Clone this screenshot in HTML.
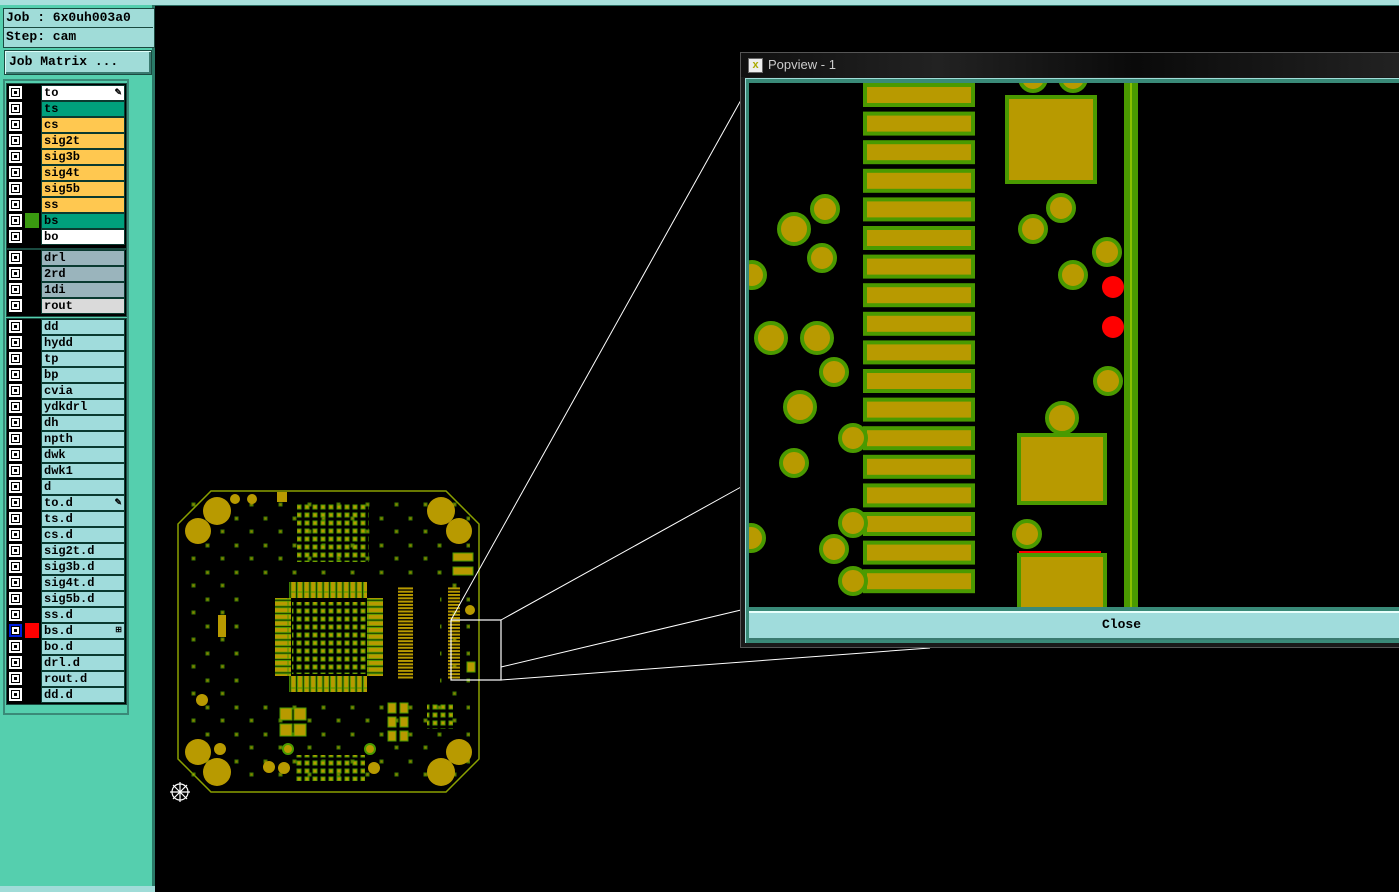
<!DOCTYPE html>
<html><head><meta charset="utf-8"><style>
body{margin:0;width:1399px;height:892px;background:#000;position:relative;overflow:hidden;font-family:"Liberation Mono",monospace;}
.a{position:absolute;}
.lbl{position:absolute;left:41px;width:80px;height:14px;font:bold 12px/14px "Liberation Mono",monospace;padding-left:2px;color:#000;border:1px solid #0a3a30;}
.cb{position:absolute;left:9px;width:9px;height:9px;background:#000;border:2px solid #fff;}
.cb:after{content:"";position:absolute;left:1px;top:1px;width:3px;height:3px;border:2px solid #fff;}
</style></head><body>
<div class="a" style="left:0;top:0;width:1399px;height:5px;background:#a8e0dc;border-bottom:1px solid #2a6a60"></div>
<div class="a" style="left:0;top:5px;width:155px;height:887px;background:#55cfae"></div>
<div class="a" style="left:152px;top:5px;width:3px;height:887px;background:#2a7a68"></div>
<div class="a" style="left:3px;top:8px;width:150px;height:38px;background:#a0dcd8;border:1px solid #1a4a40"></div>
<div class="a" style="left:3px;top:27px;width:150px;height:1px;background:#1a4a40"></div>
<div class="a" style="left:6px;top:9px;font:bold 13px/18px 'Liberation Mono',monospace">Job : 6x0uh003a0</div>
<div class="a" style="left:6px;top:28px;font:bold 13px/18px 'Liberation Mono',monospace">Step: cam</div>
<div class="a" style="left:4px;top:50px;width:146px;height:23px;background:#a0dcd8;border:1px solid #1a4a40;box-shadow:inset 1px 1px #e0fffa,inset -2px -2px #3a7a70"></div>
<div class="a" style="left:9px;top:53px;font:bold 13px/18px 'Liberation Mono',monospace">Job Matrix ...</div>
<div class="a" style="left:3px;top:79px;width:126px;height:636px;background:#3a8a78"></div>
<div class="a" style="left:5px;top:81px;width:122px;height:632px;background:#55cfae"></div>
<div class="a" style="left:6px;top:83px;width:119px;height:164px;background:#000;border:1px solid #1a4a40"></div>
<div class="a" style="left:6px;top:249px;width:119px;height:66px;background:#000;border:1px solid #1a4a40"></div>
<div class="a" style="left:6px;top:318px;width:119px;height:385px;background:#000;border:1px solid #1a4a40"></div>
<!-- group1 -->
<div class="cb" style="top:86px"></div><div class="lbl" style="top:85px;background:#fff">to<span style="position:absolute;right:2px;font-size:9px">&#9998;</span></div>
<div class="cb" style="top:102px"></div><div class="lbl" style="top:101px;background:#00a07c">ts</div>
<div class="cb" style="top:118px"></div><div class="lbl" style="top:117px;background:#ffc850">cs</div>
<div class="cb" style="top:134px"></div><div class="lbl" style="top:133px;background:#ffc850">sig2t</div>
<div class="cb" style="top:150px"></div><div class="lbl" style="top:149px;background:#ffc850">sig3b</div>
<div class="cb" style="top:166px"></div><div class="lbl" style="top:165px;background:#ffc850">sig4t</div>
<div class="cb" style="top:182px"></div><div class="lbl" style="top:181px;background:#ffc850">sig5b</div>
<div class="cb" style="top:198px"></div><div class="lbl" style="top:197px;background:#ffc850">ss</div>
<div class="cb" style="top:214px"></div><div class="a" style="left:25px;top:213px;width:14px;height:15px;background:#3a9a10"></div><div class="lbl" style="top:213px;background:#00a07c">bs</div>
<div class="cb" style="top:230px"></div><div class="lbl" style="top:229px;background:#fff">bo</div>
<!-- group2 -->
<div class="cb" style="top:251px"></div><div class="lbl" style="top:250px;background:#9ab4bc">drl</div>
<div class="cb" style="top:267px"></div><div class="lbl" style="top:266px;background:#9ab4bc">2rd</div>
<div class="cb" style="top:283px"></div><div class="lbl" style="top:282px;background:#9ab4bc">1di</div>
<div class="cb" style="top:299px"></div><div class="lbl" style="top:298px;background:#dadada">rout</div>
<!-- group3 -->
<div class="cb" style="top:320px"></div><div class="lbl" style="top:319px;background:#a0dcdc">dd</div>
<div class="cb" style="top:336px"></div><div class="lbl" style="top:335px;background:#a0dcdc">hydd</div>
<div class="cb" style="top:352px"></div><div class="lbl" style="top:351px;background:#a0dcdc">tp</div>
<div class="cb" style="top:368px"></div><div class="lbl" style="top:367px;background:#a0dcdc">bp</div>
<div class="cb" style="top:384px"></div><div class="lbl" style="top:383px;background:#a0dcdc">cvia</div>
<div class="cb" style="top:400px"></div><div class="lbl" style="top:399px;background:#a0dcdc">ydkdrl</div>
<div class="cb" style="top:416px"></div><div class="lbl" style="top:415px;background:#a0dcdc">dh</div>
<div class="cb" style="top:432px"></div><div class="lbl" style="top:431px;background:#a0dcdc">npth</div>
<div class="cb" style="top:448px"></div><div class="lbl" style="top:447px;background:#a0dcdc">dwk</div>
<div class="cb" style="top:464px"></div><div class="lbl" style="top:463px;background:#a0dcdc">dwk1</div>
<div class="cb" style="top:480px"></div><div class="lbl" style="top:479px;background:#a0dcdc">d</div>
<div class="cb" style="top:496px"></div><div class="lbl" style="top:495px;background:#a0dcdc">to.d<span style="position:absolute;right:2px;font-size:9px">&#9998;</span></div>
<div class="cb" style="top:512px"></div><div class="lbl" style="top:511px;background:#a0dcdc">ts.d</div>
<div class="cb" style="top:528px"></div><div class="lbl" style="top:527px;background:#a0dcdc">cs.d</div>
<div class="cb" style="top:544px"></div><div class="lbl" style="top:543px;background:#a0dcdc">sig2t.d</div>
<div class="cb" style="top:560px"></div><div class="lbl" style="top:559px;background:#a0dcdc">sig3b.d</div>
<div class="cb" style="top:576px"></div><div class="lbl" style="top:575px;background:#a0dcdc">sig4t.d</div>
<div class="cb" style="top:592px"></div><div class="lbl" style="top:591px;background:#a0dcdc">sig5b.d</div>
<div class="cb" style="top:608px"></div><div class="lbl" style="top:607px;background:#a0dcdc">ss.d</div>
<div class="cb" style="top:624px;border-color:#0020e0"></div><div class="a" style="left:25px;top:623px;width:14px;height:15px;background:#f00"></div><div class="lbl" style="top:623px;background:#a0dcdc">bs.d<span style="position:absolute;right:2px;font-size:8px">&#8862;</span></div>
<div class="cb" style="top:640px"></div><div class="lbl" style="top:639px;background:#a0dcdc">bo.d</div>
<div class="cb" style="top:656px"></div><div class="lbl" style="top:655px;background:#a0dcdc">drl.d</div>
<div class="cb" style="top:672px"></div><div class="lbl" style="top:671px;background:#a0dcdc">rout.d</div>
<div class="cb" style="top:688px"></div><div class="lbl" style="top:687px;background:#a0dcdc">dd.d</div>
<div class="a" style="left:0;top:886px;width:155px;height:6px;background:#a0dcd8"></div>

<svg class="a" style="left:0;top:0" width="1399" height="892">
<defs>
<pattern id="bga" width="8" height="8" patternUnits="userSpaceOnUse"><rect x="1" y="1" width="4" height="4" fill="#b89a00" stroke="#4a9a00" stroke-width="1"/></pattern>
<pattern id="hp" width="16" height="6.6" patternUnits="userSpaceOnUse"><rect x="0" y="0.5" width="16" height="5" fill="#b89a00" stroke="#4a9a00"/></pattern>
<pattern id="vp" width="6.6" height="16" patternUnits="userSpaceOnUse"><rect x="0.5" y="0" width="5" height="16" fill="#b89a00" stroke="#4a9a00"/></pattern>
<pattern id="cn" width="14" height="3.3" patternUnits="userSpaceOnUse"><rect x="0" y="0" width="14" height="2" fill="#b89a00"/></pattern>
<pattern id="sp" width="29" height="27" patternUnits="userSpaceOnUse"><rect x="3" y="4" width="3" height="3" fill="#b89a00" stroke="#4a9a00"/><rect x="18" y="17" width="3" height="3" fill="#b89a00" stroke="#4a9a00"/></pattern>
</defs>
<polygon points="211,491 446,491 479,524 479,759 446,792 211,792 178,759 178,524" fill="#000" stroke="#8aa000" stroke-width="1.5"/>
<rect x="190" y="500" width="280" height="285" fill="url(#sp)" opacity=".8"/>
<rect x="240" y="580" width="200" height="120" fill="#000"/>
<g fill="#b89a00">
<circle cx="217" cy="511" r="14"/><circle cx="198" cy="531" r="13"/><circle cx="441" cy="511" r="14"/><circle cx="459" cy="531" r="13"/>
<circle cx="198" cy="752" r="13"/><circle cx="217" cy="772" r="14"/><circle cx="441" cy="772" r="14"/><circle cx="459" cy="752" r="13"/>
<circle cx="235" cy="499" r="5"/><circle cx="252" cy="499" r="5"/><circle cx="202" cy="700" r="6"/><circle cx="220" cy="749" r="6"/>
<circle cx="269" cy="767" r="6"/><circle cx="284" cy="768" r="6"/><circle cx="374" cy="768" r="6"/><circle cx="470" cy="610" r="5"/>
<rect x="277" y="492" width="10" height="10"/>
<rect x="218" y="615" width="8" height="22"/>
</g>
<circle cx="288" cy="749" r="5" fill="#b89a00" stroke="#4a9a00" stroke-width="2"/><circle cx="370" cy="749" r="5" fill="#b89a00" stroke="#4a9a00" stroke-width="2"/>
<rect x="297" y="502" width="72" height="60" fill="url(#bga)"/>
<rect x="292" y="602" width="74" height="72" fill="url(#bga)"/>
<rect x="275" y="598" width="16" height="78" fill="url(#hp)"/>
<rect x="367" y="598" width="16" height="78" fill="url(#hp)"/>
<rect x="289" y="582" width="78" height="16" fill="url(#vp)"/>
<rect x="289" y="676" width="78" height="16" fill="url(#vp)"/>
<rect x="398" y="587" width="15" height="92" fill="url(#cn)"/>
<rect x="448" y="587" width="12" height="92" fill="url(#cn)"/>
<g fill="#b89a00" stroke="#4a9a00">
<rect x="280" y="708" width="12" height="12"/><rect x="294" y="708" width="12" height="12"/><rect x="280" y="724" width="12" height="12"/><rect x="294" y="724" width="12" height="12"/>
<rect x="388" y="703" width="8" height="10"/><rect x="400" y="703" width="8" height="10"/><rect x="388" y="717" width="8" height="10"/><rect x="400" y="717" width="8" height="10"/><rect x="388" y="731" width="8" height="10"/><rect x="400" y="731" width="8" height="10"/>
<rect x="453" y="553" width="20" height="8"/><rect x="453" y="567" width="20" height="8"/><rect x="467" y="662" width="8" height="10"/>
<rect x="295" y="755" width="70" height="26" fill="url(#bga)" stroke="none"/>
<rect x="427" y="703" width="26" height="26" fill="url(#bga)" stroke="none"/>
</g>
<rect x="451" y="620" width="50" height="60" fill="none" stroke="#fff" stroke-width="1.2"/>
<g stroke="#fff" stroke-width="1">
<line x1="451" y1="620" x2="741" y2="100"/>
<line x1="501" y1="620" x2="741" y2="487"/>
<line x1="501" y1="667" x2="741" y2="610"/>
<line x1="501" y1="680" x2="930" y2="648"/>
</g>
<g stroke="#fff" stroke-width="1.2" fill="none"><circle cx="180" cy="792" r="8"/><line x1="170" y1="792" x2="190" y2="792"/><line x1="180" y1="782" x2="180" y2="802"/><line x1="173" y1="785" x2="187" y2="799"/><line x1="187" y1="785" x2="173" y2="799"/></g>
</svg>

<div class="a" style="left:740px;top:52px;width:659px;height:594px;background:#1a1a1a;border:1px solid #555"></div>
<div class="a" style="left:741px;top:53px;width:658px;height:24px;background:linear-gradient(90deg,#101010,#222 30%,#0a0a0a 60%,#222)"></div>
<div class="a" style="left:748px;top:58px;width:13px;height:13px;background:#eee;border:1px solid #666;color:#aa0;font:bold 11px/13px sans-serif;text-align:center">x</div>
<div class="a" style="left:768px;top:56px;color:#ccc;font:13px/18px 'Liberation Sans',sans-serif">Popview - 1</div>
<div class="a" style="left:745px;top:78px;width:654px;height:564px;background:#3a8a78;border-top:1px solid #a0dcd8;border-left:1px solid #a0dcd8"></div>
<div class="a" style="left:749px;top:83px;width:650px;height:524px;background:#000;overflow:hidden">
<svg width="650" height="524" style="position:absolute;left:0;top:0">
<g transform="translate(-749,-83)">
<g fill="#b89a00" stroke="#4a9a00" stroke-width="4">
<rect x="865" y="85" width="108" height="20"/><rect x="865" y="113.6" width="108" height="20"/><rect x="865" y="142.2" width="108" height="20"/><rect x="865" y="170.8" width="108" height="20"/><rect x="865" y="199.4" width="108" height="20"/><rect x="865" y="228" width="108" height="20"/><rect x="865" y="256.6" width="108" height="20"/><rect x="865" y="285.2" width="108" height="20"/><rect x="865" y="313.8" width="108" height="20"/><rect x="865" y="342.4" width="108" height="20"/><rect x="865" y="371" width="108" height="20"/><rect x="865" y="399.6" width="108" height="20"/><rect x="865" y="428.2" width="108" height="20"/><rect x="865" y="456.8" width="108" height="20"/><rect x="865" y="485.4" width="108" height="20"/><rect x="865" y="514" width="108" height="20"/><rect x="865" y="542.6" width="108" height="20"/><rect x="865" y="571.2" width="108" height="20"/>
<rect x="1007" y="97" width="88" height="85"/>
<rect x="1019" y="435" width="86" height="68"/>
<rect x="1019" y="555" width="86" height="60"/>
<circle cx="794" cy="229" r="15"/><circle cx="825" cy="209" r="13"/><circle cx="822" cy="258" r="13"/><circle cx="752" cy="275" r="13"/>
<circle cx="771" cy="338" r="15"/><circle cx="817" cy="338" r="15"/><circle cx="834" cy="372" r="13"/><circle cx="800" cy="407" r="15"/>
<circle cx="853" cy="438" r="13"/><circle cx="794" cy="463" r="13"/><circle cx="853" cy="523" r="13"/><circle cx="834" cy="549" r="13"/><circle cx="853" cy="581" r="13"/><circle cx="751" cy="538" r="13"/>
<circle cx="1061" cy="208" r="13"/><circle cx="1033" cy="229" r="13"/><circle cx="1107" cy="252" r="13"/><circle cx="1073" cy="275" r="13"/><circle cx="1108" cy="381" r="13"/><circle cx="1062" cy="418" r="15"/><circle cx="1027" cy="534" r="13"/>
<circle cx="1033" cy="78" r="13"/><circle cx="1073" cy="78" r="13"/>
</g>
<rect x="1124" y="83" width="14" height="524" fill="#4a9a00"/><rect x="1130" y="83" width="2" height="524" fill="#8ac000"/>
<rect x="1019" y="551" width="82" height="2" fill="#f00"/>
<circle cx="1113" cy="287" r="11" fill="#f00"/><circle cx="1113" cy="327" r="11" fill="#f00"/>
</g></svg></div>
<div class="a" style="left:749px;top:611px;width:650px;height:27px;background:#a0dcdc;border-top:2px solid #e8fffc;box-shadow:inset 0 -2px #3a7a70"></div>
<div class="a" style="left:1102px;top:617px;font:bold 13px/16px 'Liberation Mono',monospace">Close</div>
</body></html>
